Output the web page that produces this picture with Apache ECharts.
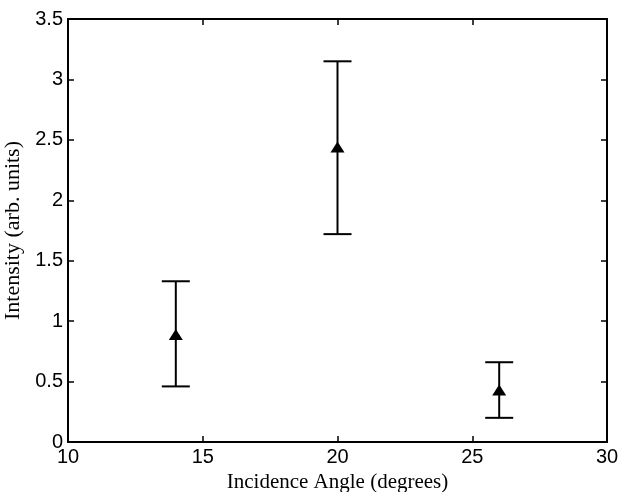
<!DOCTYPE html>
<html><head><meta charset="utf-8">
<script src="https://cdn.jsdelivr.net/npm/echarts@6/dist/echarts.min.js"></script>
<style>html,body{margin:0;padding:0;background:#fff}#c{width:620px;height:492px}</style>
</head><body><div id="c"></div>
<script>
const angles = [14, 20, 26];
const intensity = [0.89, 2.44, 0.43];
const errLow = [0.46, 1.72, 0.20];
const errHigh = [1.33, 3.15, 0.66];
const xTicks = [10, 15, 20, 25, 30];
const yTicks = [0, 0.5, 1, 1.5, 2, 2.5, 3, 3.5];

const chart = echarts.init(document.getElementById('c'), null, {renderer: 'canvas'});
const axisCommon = {
  axisLine: {show: true, onZero: false, lineStyle: {color: '#000', width: 2}},
  axisTick: {show: true, inside: true, length: 6, lineStyle: {color: '#000', width: 1.5}},
  splitLine: {show: false}
};
const labelFont = {color: '#000', fontFamily: 'Liberation Sans, Arial', fontSize: 20};
const titleFont = {color: '#000', fontFamily: 'Liberation Serif, Times New Roman', fontSize: 21};
const errData = angles.map((a, i) => [a, errLow[i], errHigh[i]]);
chart.setOption({
  animation: false,
  grid: {left: 68, right: 13, top: 19, bottom: 50, outerBoundsMode: 'none', containLabel: false},
  xAxis: [
    Object.assign({type: 'value', min: xTicks[0], max: xTicks[xTicks.length-1], interval: 5, position: 'bottom',
      name: 'Incidence Angle (degrees)', nameLocation: 'middle', nameGap: 28,
      nameTextStyle: titleFont,
      axisLabel: Object.assign({margin: 5}, labelFont)}, axisCommon),
    Object.assign({type: 'value', min: xTicks[0], max: xTicks[xTicks.length-1], interval: 5, position: 'top',
      axisLabel: {show: false}}, axisCommon)
  ],
  yAxis: [
    Object.assign({type: 'value', min: yTicks[0], max: yTicks[yTicks.length-1], interval: 0.5, position: 'left',
      name: 'Intensity (arb. units)', nameLocation: 'middle', nameGap: 40,
      nameTextStyle: Object.assign({}, titleFont, {fontSize: 22}),
      axisLabel: Object.assign({margin: 5}, labelFont)}, axisCommon),
    Object.assign({type: 'value', min: yTicks[0], max: yTicks[yTicks.length-1], interval: 0.5, position: 'right',
      axisLabel: {show: false}}, axisCommon)
  ],
  series: [
    {
      type: 'custom',
      data: errData,
      renderItem: function (params, api) {
        const x = api.value(0);
        const lo = api.coord([x, api.value(1)]);
        const hi = api.coord([x, api.value(2)]);
        const hw = 14;
        const st = {stroke: '#000', lineWidth: 2};
        return {type: 'group', children: [
          {type: 'line', shape: {x1: lo[0], y1: lo[1], x2: hi[0], y2: hi[1]}, style: st},
          {type: 'line', shape: {x1: lo[0]-hw, y1: lo[1], x2: lo[0]+hw, y2: lo[1]}, style: st},
          {type: 'line', shape: {x1: hi[0]-hw, y1: hi[1], x2: hi[0]+hw, y2: hi[1]}, style: st}
        ]};
      },
      z: 2
    },
    {
      type: 'scatter',
      data: angles.map((a, i) => [a, intensity[i]]),
      symbol: 'triangle',
      symbolSize: [14, 11],
      itemStyle: {color: '#000', opacity: 1},
      z: 3
    }
  ]
});
</script></body></html>
